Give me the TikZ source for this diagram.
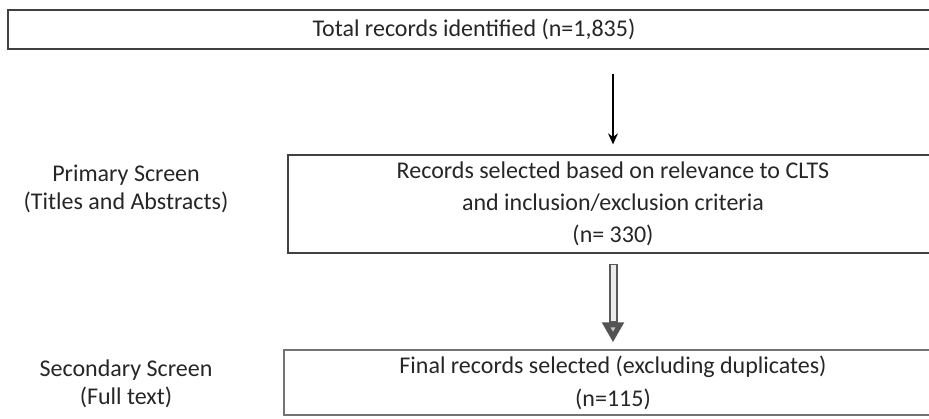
\documentclass[tikz,border=0pt]{standalone}
\usepackage{fontspec}
\setmainfont{Carlito}
\usetikzlibrary{arrows.meta}

\begin{document}
\begin{tikzpicture}[x=1pt,y=-1pt,
  box/.style={draw=black!75, line width=1.3pt, inner sep=0pt, align=center, text=black!85, font=\fontsize{24}{32}\selectfont},
  side/.style={align=center, text=black!85, font=\fontsize{24}{28}\selectfont},
  plainarrow/.style={line width=1.3pt, -{Stealth[length=11pt,width=10pt]}},
  hollowout/.style={line width=9pt, draw=gray!70!black, -{Triangle[length=20pt,width=21pt,fill=gray!45,color=gray!65!black]}},
  hollowin/.style={line width=5pt, draw=gray!15}]
\useasboundingbox (0,0) rectangle (929,419);
\clip (0,0) rectangle (929,419);

\node[box, minimum width=932pt, minimum height=39pt] (total) at (474,29.5) {Total records identified (n=1,835)};
\node[side] (primary) at (126,189) {Primary Screen\\(Titles and Abstracts)};
\node[box, minimum width=650pt, minimum height=98pt] (records) at (613,204) {Records selected based on relevance to CLTS\\and inclusion/exclusion criteria\\(n= 330)};
\node[side] (secondary) at (126,383.5) {Secondary Screen\\(Full text)};
\node[box, minimum width=658pt, minimum height=65pt, draw=black!55, font=\fontsize{24}{33}\selectfont] (final) at (613,382.5) {Final records selected (excluding duplicates)\\(n=115)};

\path
(records.north |- total.south) edge[plainarrow, shorten <=24pt, shorten >=10pt] (records.north)
(records.south) edge[hollowout, shorten <=10pt, shorten >=7pt] (final.north)
(records.south) edge[hollowin, shorten <=11.5pt, shorten >=28pt] (final.north)
;
\end{tikzpicture}
\end{document}
